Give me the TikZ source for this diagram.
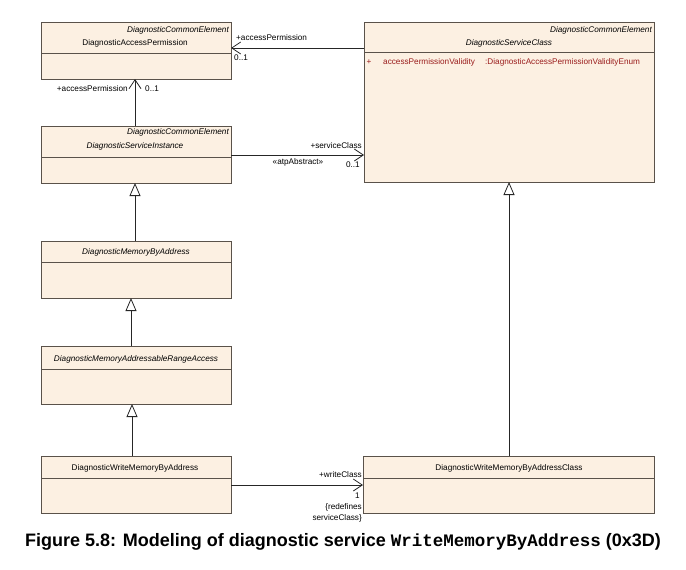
\documentclass[tikz,border=0pt]{standalone}
\usepackage{fontspec}
\setmainfont{Liberation Sans}
\setmonofont{Liberation Mono}
\usetikzlibrary{arrows.meta}
\definecolor{boxfill}{HTML}{FCF0E2}
\definecolor{boxline}{HTML}{5A524A}
\definecolor{attr}{HTML}{9A1C1C}
\begin{document}
\begin{tikzpicture}[x=1pt,y=-1pt,
  cls/.style={draw=boxline, fill=boxfill, line width=0.9pt, anchor=north west, inner sep=0pt, outer sep=0pt},
  sepline/.style={draw=boxline, line width=0.9pt},
  txt/.style={font=\fontsize{8.2}{9}\selectfont, inner sep=0pt, text=black},
  itxt/.style={font=\fontsize{8.2}{9}\selectfont\itshape, inner sep=0pt, text=black},
  ster/.style={itxt, anchor=east},
  atxt/.style={txt, text=attr, anchor=west},
  conn/.style={draw=black!85, line width=0.8pt},
  assoc/.style={conn, -{Straight Barb[length=9pt,width=12pt]}},
  gen/.style={conn, -{Triangle[open, length=13pt, width=11pt, fill=white]}}
]
\useasboundingbox (0,0) rectangle (686,570);

% class boxes
\node[cls, minimum width=190pt, minimum height=57pt] (A) at (41,22) {};
\node[cls, minimum width=290pt, minimum height=160pt] (B) at (364,22) {};
\node[cls, minimum width=190pt, minimum height=57pt] (C) at (41,126) {};
\node[cls, minimum width=190pt, minimum height=57pt] (D) at (41,241) {};
\node[cls, minimum width=190pt, minimum height=58pt] (E) at (41,346) {};
\node[cls, minimum width=190pt, minimum height=57pt] (F) at (41,456) {};
\node[cls, minimum width=291pt, minimum height=57pt] (G) at (363,456) {};

% compartment separators
\draw[sepline] (A.west |- 0,53) -- (A.east |- 0,53);
\draw[sepline] (B.west |- 0,52) -- (B.east |- 0,52);
\draw[sepline] (C.west |- 0,157) -- (C.east |- 0,157);
\draw[sepline] (D.west |- 0,262) -- (D.east |- 0,262);
\draw[sepline] (E.west |- 0,369) -- (E.east |- 0,369);
\draw[sepline] (F.west |- 0,478) -- (F.east |- 0,478);
\draw[sepline] (G.west |- 0,478) -- (G.east |- 0,478);

% class texts
\node[ster] (Aster) at (229,30) {DiagnosticCommonElement};
\node[txt] (Aname) at (135,43) {DiagnosticAccessPermission};
\node[ster] (Bster) at (652,30) {DiagnosticCommonElement};
\node[itxt] (Bname) at (509,43) {DiagnosticServiceClass};
\node[txt, text=attr] (Bplus) at (369,62) {+};
\node[atxt] (Battr) at (383,62) {accessPermissionValidity};
\node[atxt] (Btype) at (485,62) {:DiagnosticAccessPermissionValidityEnum};
\node[ster] (Cster) at (229,132) {DiagnosticCommonElement};
\node[itxt] (Cname) at (135,146) {DiagnosticServiceInstance};
\node[itxt] (Dname) at (136,252) {DiagnosticMemoryByAddress};
\node[itxt] (Ename) at (136,359) {DiagnosticMemoryAddressableRangeAccess};
\node[txt] (Fname) at (135,468) {DiagnosticWriteMemoryByAddress};
\node[txt] (Gname) at (509,468) {DiagnosticWriteMemoryByAddressClass};

% associations
\draw[assoc] (B.west |- 0,48) -- (A.east |- 0,48);
\draw[assoc] (C.north -| 135,0) -- (A.south -| 135,0);
\draw[assoc] (C.east |- 0,155) -- (B.west |- 0,155);
\draw[assoc] (F.east |- 0,485) -- (G.west |- 0,485);

% generalizations
\draw[gen] (D.north -| 135,0) -- (C.south -| 135,0);
\draw[gen] (E.north -| 131,0) -- (D.south -| 131,0);
\draw[gen] (F.north -| 132,0) -- (E.south -| 132,0);
\draw[gen] (G.north -| 509,0) -- (B.south -| 509,0);

% association labels
\node[txt, anchor=west] (l1) at (236,38) {+accessPermission};
\node[txt, anchor=west] (l2) at (234,58) {0..1};
\node[txt, anchor=east] (l3) at (128,89) {+accessPermission};
\node[txt, anchor=west] (l4) at (145,89) {0..1};
\node[txt, anchor=east] (l5) at (362,146) {+serviceClass};
\node[txt] (l6) at (298,162) {«atpAbstract»};
\node[txt, anchor=east] (l7) at (360,165) {0..1};
\node[txt, anchor=east] (l8) at (362,475) {+writeClass};
\node[txt, anchor=east] (l9) at (360,496) {1};
\node[txt, anchor=east] (l10) at (362,507) {\{redefines};
\node[txt, anchor=east] (l11) at (362,518) {serviceClass\}};

% caption
\node[anchor=base west, inner sep=0pt, font=\fontsize{18}{20}\selectfont\bfseries] (cap) at (25,546) {Figure 5.8: Modeling of diagnostic service {\fontsize{17.5}{20}\selectfont\texttt{WriteMemoryByAddress}} (0x3D)};
\end{tikzpicture}
\end{document}
